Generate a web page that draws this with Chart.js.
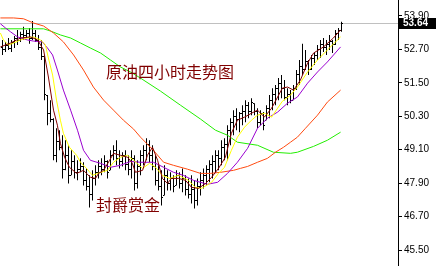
<!DOCTYPE html>
<html><head><meta charset="utf-8">
<script src="https://cdn.jsdelivr.net/npm/chart.js@4/dist/chart.umd.min.js"></script>
<style>html,body{margin:0;padding:0;background:#fff;}canvas{display:block;}</style>
</head><body>
<canvas id="c" width="436" height="266"></canvas>
<script>
// ---- data (crude oil, 4-hour bars) ----
const highs = [53.04,52.97,53.11,53.04,53.18,53.40,53.33,53.51,53.40,53.47,53.72,53.40,53.22,53.04,52.50,51.06,50.88,50.23,49.87,49.80,
49.62,49.44,49.26,49.08,48.90,48.72,48.79,48.65,48.43,48.18,48.36,48.54,48.72,48.79,48.90,48.72,49.08,49.26,49.44,49.08,
49.01,49.08,48.90,49.08,48.90,48.72,49.08,49.26,49.51,49.44,49.26,48.90,48.54,48.36,48.54,48.36,48.29,48.18,48.36,48.29,
48.43,48.18,48.07,48.18,48.00,48.07,48.29,48.43,48.54,48.72,48.90,49.08,49.08,49.44,49.51,49.98,50.23,50.52,50.59,50.45,
50.70,50.88,50.81,50.95,50.77,50.59,50.52,50.45,50.70,51.06,51.31,51.42,51.67,51.78,51.60,51.31,51.24,51.42,51.96,52.32,
52.90,52.68,52.32,52.50,52.61,52.86,53.04,53.11,53.04,53.22,53.04,53.40,53.47,53.69];
const lows = [52.50,52.61,52.68,52.61,52.75,52.86,52.97,53.04,53.11,52.90,53.04,52.97,52.68,52.32,50.88,49.98,50.09,48.72,48.65,49.08,
48.07,48.36,47.89,48.18,48.07,48.00,48.29,47.82,47.64,47.03,47.28,47.82,48.07,48.18,48.29,48.07,48.36,48.72,48.54,48.43,
48.50,48.36,48.18,48.07,47.64,47.71,48.18,48.54,48.72,48.65,48.36,47.82,47.64,47.10,47.46,47.64,47.64,47.57,47.82,47.71,
47.57,47.46,47.35,47.17,46.99,47.10,47.46,47.71,47.82,47.93,48.07,48.29,48.36,48.54,48.72,48.72,49.26,49.62,49.80,49.73,
49.98,50.09,50.23,50.34,50.34,49.87,49.98,49.80,50.16,50.23,50.52,50.70,50.88,50.95,50.88,50.70,50.77,50.88,51.24,51.42,
51.78,51.96,51.78,51.96,52.14,52.32,52.39,52.61,52.50,52.68,52.57,52.86,53.04,53.33];
const opens = [52.80,52.70,52.85,52.75,52.95,53.10,53.05,53.25,53.20,53.30,53.10,53.30,53.05,52.80,52.45,51.06,50.40,50.20,48.90,49.40,
49.20,48.40,48.90,48.20,48.70,48.30,48.40,48.50,48.00,47.80,47.50,48.10,48.30,48.50,48.40,48.70,48.36,48.90,49.10,48.80,
48.70,48.90,48.60,48.40,48.80,47.90,48.50,48.90,49.10,49.30,48.90,48.50,48.00,47.80,47.46,48.20,47.90,48.10,47.82,48.20,
47.90,48.10,47.70,47.50,47.70,47.30,47.80,48.00,48.20,48.40,48.60,48.70,48.90,48.80,49.20,49.30,49.80,50.10,50.30,50.20,
50.40,50.50,50.70,50.50,50.77,50.50,50.10,50.40,50.16,50.60,50.90,51.10,51.30,51.50,51.30,51.00,51.10,50.90,51.30,51.80,
52.10,52.00,52.30,52.00,52.40,52.50,52.70,52.90,52.80,52.90,53.00,52.90,53.30,53.40];
const closes = [52.70,52.85,52.75,52.95,53.10,53.05,53.25,53.20,53.30,53.10,53.30,53.05,52.80,52.45,51.10,50.40,50.20,48.90,49.40,49.20,
48.40,48.90,48.20,48.70,48.30,48.40,48.50,48.00,47.80,47.50,48.10,48.30,48.50,48.40,48.70,48.30,48.90,49.10,48.80,48.70,
48.90,48.60,48.40,48.80,47.90,48.50,48.90,49.10,49.30,48.90,48.50,48.00,47.80,47.40,48.20,47.90,48.10,47.80,48.20,47.90,
48.10,47.70,47.50,47.70,47.30,47.80,48.00,48.20,48.40,48.60,48.70,48.90,48.80,49.20,49.30,49.80,50.10,50.30,50.20,50.40,
50.50,50.70,50.50,50.80,50.50,50.10,50.40,50.00,50.60,50.90,51.10,51.30,51.50,51.30,51.00,51.10,50.90,51.30,51.80,52.10,
52.00,52.30,52.00,52.40,52.50,52.70,52.90,52.80,52.90,53.00,52.90,53.30,53.40,53.64];
const barIndex = highs.map((_, i) => i);

// moving-average curves as [bar position, price]
const maFast = [[-0.7,52.79],[2.7,52.93],[6,53.11],[9.3,53.15],[11.7,53.04],[13.7,52.68],[15.3,51.71],[17,50.52],[18.3,49.98],[19.3,49.33],
[20.7,48.83],[22.3,48.47],[24.7,48.25],[27,48.36],[29.3,48.11],[31,48.07],[32,48.25],[33.7,48.36],[35.7,48.72],[37,48.97],
[39.3,48.90],[41.7,48.83],[43.3,48.61],[44.3,48.29],[46.7,48.36],[48.3,48.90],[50,49.19],[51.7,48.72],[53.3,48.07],[55,47.89],
[56.3,48.07],[58.7,48.07],[61,48.00],[63,47.75],[65.3,47.71],[67.7,47.89],[69.7,48.11],[72,48.43],[74.3,48.83],[76.3,49.69],
[78.3,50.16],[80.7,50.27],[83,50.41],[85,50.52],[87.3,50.27],[89.7,50.59],[91.7,50.99],[93.3,51.31],[95,51.35],[97,51.24],
[99.3,51.60],[101.7,52.21],[103.7,52.57],[107,52.79],[110.3,53.11],[112.7,53.40]];
const maYellow = [[-0.7,53.29],[0.3,53.04],[2,52.86],[3.7,52.93],[6,53.04],[8.3,53.11],[10.3,53.15],[12.7,53.04],[14.3,52.86],[15.3,52.39],
[16.7,51.78],[18,50.88],[19.3,50.16],[20.3,49.69],[22.3,49.19],[24.7,48.90],[26,48.65],[28,48.43],[30,48.18],[31.7,48.25],
[35,48.36],[37,48.65],[39.3,48.83],[41.7,48.90],[43.7,48.72],[46.7,48.43],[49,48.61],[51,48.47],[53.3,48.18],[55.7,48.07],
[58.7,48.18],[62,48.00],[64.3,47.75],[66.3,47.71],[69.7,47.93],[72,48.25],[74,48.47],[76.3,49.08],[78.3,49.55],[80.7,49.91],
[83,50.16],[85,50.34],[87.3,50.41],[89.7,50.27],[91.7,50.59],[93.3,50.84],[96,51.06],[98.3,51.35],[101.7,51.89],[105,52.32],
[108.3,52.68],[112.7,53.15]];
const maPurple = [[-0.7,53.62],[1,53.47],[2.7,53.33],[5,53.15],[8.3,53.04],[10.3,53.00],[13.3,52.97],[15,52.75],[16.7,52.50],[18.3,51.96],
[20.3,51.24],[22.7,50.52],[25,49.80],[27,49.08],[29.3,48.72],[32.7,48.61],[36,48.47],[39.3,48.54],[42.7,48.68],[46,48.65],
[50.3,48.65],[53.7,48.47],[57,48.29],[60.3,48.18],[63.7,48.00],[68.3,47.86],[71.7,47.93],[75,48.25],[78.3,48.65],[81.7,49.15],
[85,49.87],[88.3,50.23],[91.7,50.45],[95,50.77],[98.3,50.99],[101.7,51.49],[105,51.89],[108.3,52.25],[112.7,52.79]];
const maRed = [[-0.7,53.83],[3.7,53.83],[7,53.80],[10.3,53.65],[13.7,53.54],[17,53.29],[20.3,52.97],[23.7,52.50],[27,51.96],[30.3,51.35],
[33.7,50.88],[37,50.52],[40.3,50.16],[43.7,49.84],[46,49.55],[50.3,49.08],[53.7,48.65],[57,48.54],[61.7,48.40],[66,48.25],
[69.3,48.25],[72.7,48.29],[77,48.36],[79.3,48.43],[81.7,48.50],[85,48.65],[88.3,48.79],[91,49.01],[93.7,49.19],[96,49.37],
[98.3,49.55],[101,49.87],[105,50.34],[108.3,50.81],[112.7,51.24]];
const maGreen = [[-0.7,53.44],[13.7,53.44],[16,53.36],[19.3,53.22],[22.7,53.11],[26,52.93],[29.3,52.75],[32.7,52.57],[36,52.32],[39.3,52.07],
[42.7,51.89],[46,51.67],[52.7,51.20],[59.3,50.70],[66,50.20],[71,49.80],[75,49.62],[78.3,49.37],[85,49.26],[90.3,49.01],
[96,48.97],[98.3,49.01],[103.7,49.22],[108.3,49.44],[112.7,49.73]];

const yTickValues = [45.50,46.70,47.90,49.10,50.30,51.50,52.70,53.90];
const lastPrice = 53.64;
const titleText = '原油四小时走势图';
const brandText = '封爵赏金';

const toXY = arr => arr.map(p => ({x: p[0], y: p[1]}));

const ohlcPlugin = {
  id: 'ohlcExtras',
  beforeDatasetsDraw(chart) {
    const {ctx, chartArea, scales: {x, y}} = chart;
    ctx.save();
    const py = Math.round(y.getPixelForValue(lastPrice)) + 0.5;
    ctx.strokeStyle = '#c0c0c0';
    ctx.lineWidth = 1;
    ctx.beginPath();
    ctx.moveTo(chartArea.left, py);
    ctx.lineTo(chartArea.right, py);
    ctx.stroke();
    ctx.fillStyle = '#000';
    barIndex.forEach(i => {
      const cx = Math.floor(x.getPixelForValue(i));
      ctx.fillRect(cx - 1, Math.round(y.getPixelForValue(opens[i])), 1, 1);
      ctx.fillRect(cx + 1, Math.round(y.getPixelForValue(closes[i])), 1, 1);
    });
    ctx.restore();
  },
  afterDraw(chart) {
    const {ctx, chartArea, scales: {y}} = chart;
    ctx.save();
    const py = Math.round(y.getPixelForValue(lastPrice));
    ctx.fillStyle = '#000';
    ctx.fillRect(chartArea.right + 1, py - 5, 37, 11);
    ctx.fillStyle = '#fff';
    ctx.font = 'bold 10px "Liberation Sans"';
    ctx.textBaseline = 'middle';
    ctx.textAlign = 'left';
    ctx.fillText(lastPrice.toFixed(2), chartArea.right + 5, py + 0.5);
    ctx.fillStyle = '#800000';
    ctx.font = '16px "Noto Sans CJK SC"';
    ctx.fillText(titleText, 106, 72);
    ctx.fillText(brandText, 96, 205);
    ctx.restore();
  }
};

const lineDs = (label, data, color, order) => ({
  type: 'line', label, data: toXY(data), borderColor: color, borderWidth: 1,
  pointRadius: 0, tension: 0, fill: false, order
});

new Chart(document.getElementById('c'), {
  type: 'bar',
  data: {
    datasets: [
      {type: 'bar', label: 'OHLC', data: barIndex.map(i => ({x: i, y: [lows[i], highs[i]]})),
       backgroundColor: '#000', barThickness: 1, inflateAmount: 0, borderWidth: 0, order: 10},
      lineDs('MA green', maGreen, '#22ee00', 5),
      lineDs('MA red', maRed, '#ff4a10', 4),
      lineDs('MA purple', maPurple, '#9a00d0', 3),
      lineDs('MA yellow', maYellow, '#ffff00', 2),
      lineDs('MA fast', maFast, '#800000', 1)
    ]
  },
  options: {
    responsive: false, animation: false, devicePixelRatio: 1,
    layout: {padding: 0, autoPadding: false},
    plugins: {legend: {display: false}, tooltip: {enabled: false}},
    scales: {
      x: {type: 'linear', display: false, min: -2.5/3, max: -2.5/3 + 398/3, offset: false},
      y: {
        position: 'right', min: 44.926, max: 54.474,
        afterBuildTicks(s) { s.ticks = yTickValues.map(v => ({value: v})); },
        afterFit(s) { s.width = 38; s.paddingTop = 0; s.paddingBottom = 0; },
        grid: {drawOnChartArea: false, drawTicks: true, tickLength: 4, color: '#000'},
        border: {display: true, color: '#000', width: 1},
        ticks: {color: '#000', padding: 2, font: {family: 'Liberation Sans', size: 10},
                callback: v => Number(v).toFixed(2)}
      }
    }
  },
  plugins: [ohlcPlugin]
});
</script>
</body></html>
